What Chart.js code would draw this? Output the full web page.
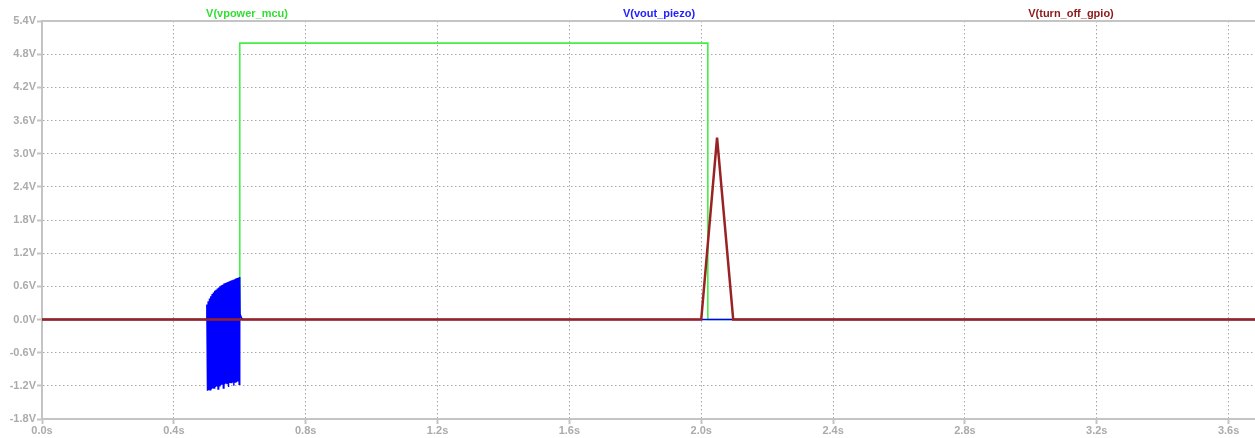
<!DOCTYPE html>
<html>
<head>
<meta charset="utf-8">
<script src="https://cdn.jsdelivr.net/npm/chart.js@4.4.1/dist/chart.umd.min.js"></script>
<style>
  html, body { margin: 0; padding: 0; background: #ffffff; }
  #wrap { position: relative; width: 1255px; height: 438px; }
</style>
</head>
<body>
<div id="wrap"><canvas id="chart-canvas"></canvas></div>
<script>
// Axis ticks
const xTicks = [0, 0.4, 0.8, 1.2, 1.6, 2.0, 2.4, 2.8, 3.2, 3.6];
const yTicks = [-1.8, -1.2, -0.6, 0, 0.6, 1.2, 1.8, 2.4, 3.0, 3.6, 4.2, 4.8, 5.4];
const xMax = 3.68;

// Trace names (shown above the plot)
const traceNames = ["V(vpower_mcu)", "V(vout_piezo)", "V(turn_off_gpio)"];
const traceColors = ["#44ee44", "#0000ff", "#992222"];
const titleColors = ["#33dd33", "#2222ff", "#8b1a1a"];
const titleX = [247, 659, 1071];

// V(vpower_mcu)
const mcuT = [0, 0.6, 0.6, 2.02, 2.02, 3.68];
const mcuV = [0, 0, 5.0, 5.0, 0, 0];

// V(vout_piezo): flat, a dense burst between 0.5s and 0.6s, then flat
const piezoT = [0, 0.4995,
  0.500, 0.502, 0.504, 0.506, 0.508, 0.510, 0.512, 0.514, 0.516, 0.518,
  0.520, 0.522, 0.524, 0.526, 0.528, 0.530, 0.532, 0.534, 0.536, 0.538,
  0.540, 0.542, 0.544, 0.546, 0.548, 0.550, 0.552, 0.554, 0.556, 0.558,
  0.560, 0.562, 0.564, 0.566, 0.568, 0.570, 0.572, 0.574, 0.576, 0.578,
  0.580, 0.582, 0.584, 0.586, 0.588, 0.590, 0.592, 0.594, 0.596, 0.598,
  0.600, 0.601, 0.605, 0.610, 3.68];
const piezoV = [0, 0,
  0.27, -1.29, 0.33, -1.28, 0.38, -1.27, 0.42, -1.26, 0.46, -1.25,
  0.49, -1.24, 0.52, -1.22, 0.54, -1.21, 0.56, -1.26, 0.58, -1.20,
  0.60, -1.19, 0.62, -1.18, 0.63, -1.24, 0.65, -1.17, 0.66, -1.16,
  0.67, -1.16, 0.68, -1.22, 0.69, -1.15, 0.70, -1.14, 0.71, -1.14,
  0.72, -1.20, 0.73, -1.13, 0.74, -1.13, 0.75, -1.12, 0.76, -1.17,
  0.77, 0.10, 0.03, 0, 0];

// V(turn_off_gpio)
const gpioT = [0, 2.0, 2.048, 2.097, 3.68];
const gpioV = [0, 0, 3.29, 0, 0];

function toPoints(ts, vs) {
    return ts.map((t, i) => ({ x: t, y: vs[i] }));
}

const axisGray = "#c4c4c4";
const gridGray = "#a8a8a8";
const labelGray = "#ababab";
const labelFont = { family: "Liberation Sans, Arial, sans-serif", size: 11, weight: "bold" };

const traceTitles = {
    id: "traceTitles",
    afterDraw(chart) {
        const ctx = chart.ctx;
        ctx.save();
        ctx.font = "bold 11px 'Liberation Sans', Arial, sans-serif";
        ctx.textAlign = "center";
        ctx.textBaseline = "middle";
        traceNames.forEach((name, i) => {
            ctx.fillStyle = titleColors[i];
            ctx.fillText(name, titleX[i], 14);
        });
        ctx.restore();
    }
};

const ctx = document.getElementById("chart-canvas").getContext("2d");
new Chart(ctx, {
    type: "line",
    data: {
        datasets: [
            {
                label: traceNames[0],
                data: toPoints(mcuT, mcuV),
                borderColor: traceColors[0],
                borderWidth: 1.6,
                pointRadius: 0,
                tension: 0,
                order: 3
            },
            {
                label: traceNames[1],
                data: toPoints(piezoT, piezoV),
                borderColor: traceColors[1],
                borderWidth: 1.4,
                pointRadius: 0,
                tension: 0,
                order: 2
            },
            {
                label: traceNames[2],
                data: toPoints(gpioT, gpioV),
                borderColor: traceColors[2],
                borderWidth: 2.5,
                pointRadius: 0,
                tension: 0,
                order: 1
            }
        ]
    },
    options: {
        responsive: true,
        maintainAspectRatio: false,
        animation: false,
        layout: { padding: { left: 0, right: 0, top: 0, bottom: 0 } },
        scales: {
            x: {
                type: "linear",
                position: "bottom",
                min: 0,
                max: xMax,
                afterBuildTicks: axis => { axis.ticks = xTicks.map(v => ({ value: v })); },
                afterFit: axis => { axis.height = 19; },
                grid: {
                    color: gridGray,
                    lineWidth: 1,
                    tickColor: axisGray,
                    tickLength: 5,
                    tickWidth: 2
                },
                border: { color: axisGray, width: 2, dash: [1.5, 2.5] },
                ticks: {
                    color: labelGray,
                    font: labelFont,
                    padding: 0,
                    maxRotation: 0,
                    autoSkip: false,
                    callback: v => v.toFixed(1) + "s"
                }
            },
            xTop: {
                type: "linear",
                position: "top",
                min: 0,
                max: xMax,
                afterFit: axis => { axis.height = 21; },
                grid: { display: false, drawTicks: false },
                border: { color: axisGray, width: 2 },
                ticks: { display: false }
            },
            y: {
                min: -1.8,
                max: 5.4,
                afterBuildTicks: axis => { axis.ticks = yTicks.map(v => ({ value: v })); },
                afterFit: axis => { axis.width = 42; },
                grid: {
                    color: gridGray,
                    lineWidth: 1,
                    tickColor: axisGray,
                    tickLength: 5,
                    tickWidth: 2
                },
                border: { color: axisGray, width: 2, dash: [1.5, 2.5] },
                ticks: {
                    color: labelGray,
                    font: labelFont,
                    padding: 1,
                    autoSkip: false,
                    callback: v => v.toFixed(1) + "V"
                }
            }
        },
        plugins: {
            legend: { display: false },
            tooltip: { enabled: false }
        }
    },
    plugins: [traceTitles]
});
</script>
</body>
</html>
